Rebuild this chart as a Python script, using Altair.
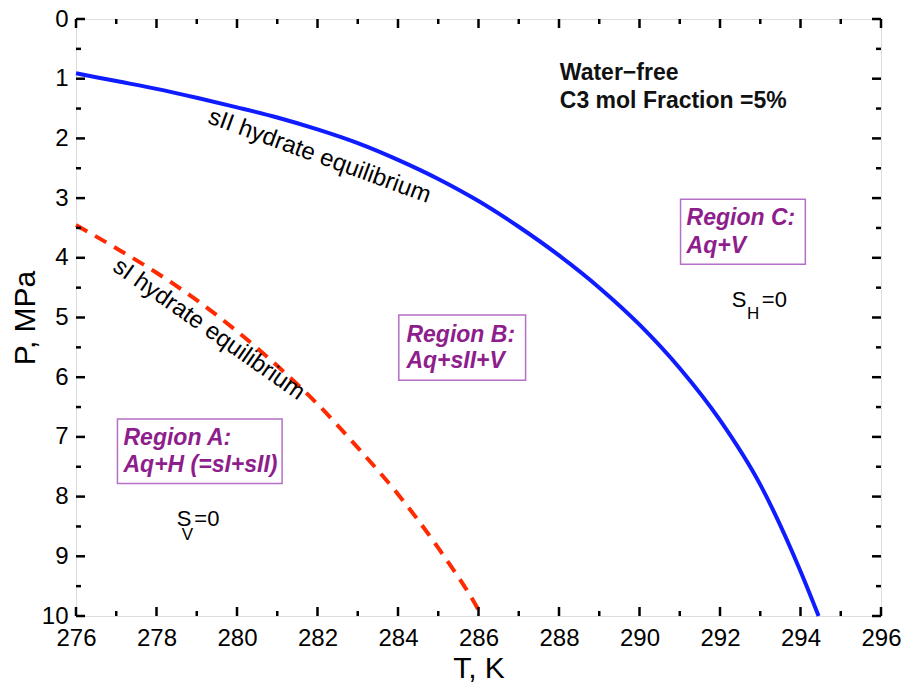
import altair as alt
import pandas as pd

# sII hydrate equilibrium curve (solid blue)
t_sii = [276.0, 277.0, 278.0, 279.0, 280.0, 281.0, 282.0, 283.0, 284.0, 285.0,
         286.0, 287.0, 288.0, 289.0, 290.0, 291.0, 292.0, 293.0, 294.0, 294.45]
p_sii = [0.91, 1.04, 1.17, 1.32, 1.48, 1.65, 1.85, 2.08, 2.36, 2.68,
         3.05, 3.48, 3.96, 4.50, 5.12, 5.85, 6.72, 7.80, 9.25, 10.0]

# sI hydrate equilibrium curve (dashed red)
t_si = [276.0, 277.0, 278.0, 279.0, 280.0, 281.0, 282.0, 283.0, 284.0, 285.0, 286.0, 286.08]
p_si = [3.45, 3.84, 4.25, 4.71, 5.23, 5.81, 6.45, 7.18, 7.96, 8.86, 9.90, 10.0]

# axis ticks
x_major = list(range(276, 297, 2))
x_minor = list(range(277, 296, 2))
y_major = list(range(0, 11))
y_minor = [v + 0.5 for v in range(0, 10)]

# region boxes: label lines and frame extents (T, P)
region_lines = ["Region A:", "Aq+H (=sI+sII)", "Region B:", "Aq+sII+V", "Region C:", "Aq+V"]
region_line_t = [277.18, 277.18, 284.21, 284.21, 291.17, 291.17]
region_line_p = [7.14, 7.58, 5.41, 5.85, 3.45, 3.92]
box_t0 = [277.03, 284.02, 291.02]
box_t1 = [281.12, 287.17, 294.12]
box_p0 = [6.70, 4.96, 3.02]
box_p1 = [7.78, 6.05, 4.11]

W, H = 805, 597
FONT = "Liberation Sans"
AXFONT = "Liberation Sans Narrow, Liberation Sans, Arial"
PURPLE = "#8e1e8c"

xs = alt.Scale(domain=[276, 296], nice=False, zero=False)
ys = alt.Scale(domain=[0, 10], nice=False, zero=False, reverse=True)

x_axis = alt.Axis(values=x_major, format="d", ticks=False, domain=False, grid=False,
                  labelFont=AXFONT, labelFontSize=24, labelColor="black", labelPadding=10,
                  labelFlush=False, labelOverlap=False,
                  title="T, K", titleFont=AXFONT, titleFontSize=30, titleFontWeight="normal",
                  titleColor="black", titleY=61, titleBaseline="alphabetic")
y_axis = alt.Axis(values=y_major, format="d", ticks=False, domain=False, grid=False,
                  labelFont=AXFONT, labelFontSize=24, labelColor="black", labelPadding=8,
                  labelFlush=False, labelOverlap=False,
                  title="P, MPa", titleFont=AXFONT, titleFontSize=30, titleFontWeight="normal",
                  titleColor="black", titleX=-42, titleY=H / 2, titleAngle=-90,
                  titleBaseline="alphabetic", titleAlign="center")


def X(field):
    return alt.X(field, scale=xs, axis=x_axis)


def Y(field):
    return alt.Y(field, scale=ys, axis=y_axis)


sii = pd.DataFrame({"T": t_sii, "P": p_sii})
si = pd.DataFrame({"T": t_si, "P": p_si})

line_sii = alt.Chart(sii).mark_line(color="#0f1cff", strokeWidth=4, interpolate="monotone").encode(
    x=X("T:Q"), y=Y("P:Q"))
line_si = alt.Chart(si).mark_line(color="#ff2a00", strokeWidth=4, strokeDash=[13, 9],
                                  interpolate="monotone").encode(x=X("T:Q"), y=Y("P:Q"))


def x_ticks(values, length):
    base = alt.Chart(pd.DataFrame({"T": values})).mark_rule(color="black", strokeWidth=2.5)
    bottom = base.encode(x=X("T:Q"), y=alt.value(H), y2=alt.value(H - length))
    top = base.encode(x=X("T:Q"), y=alt.value(0), y2=alt.value(length))
    return [bottom, top]


def y_ticks(values, length):
    base = alt.Chart(pd.DataFrame({"P": values})).mark_rule(color="black", strokeWidth=2.5)
    left = base.encode(y=Y("P:Q"), x=alt.value(0), x2=alt.value(length))
    right = base.encode(y=Y("P:Q"), x=alt.value(W), x2=alt.value(W - length))
    return [left, right]


ticks = x_ticks(x_major, 9) + x_ticks(x_minor, 5) + y_ticks(y_major, 9) + y_ticks(y_minor, 5)

boxes = alt.Chart(pd.DataFrame({"T": box_t0, "t1": box_t1, "P": box_p0, "p1": box_p1})).mark_rect(
    fill="white", fillOpacity=0, stroke="#b56fc6", strokeWidth=1.5
).encode(x=X("T:Q"), x2="t1:Q", y=Y("P:Q"), y2="p1:Q")

region_text = alt.Chart(pd.DataFrame({"T": region_line_t, "P": region_line_p, "label": region_lines})).mark_text(
    font=FONT, fontSize=23, fontWeight="bold", fontStyle="italic", color=PURPLE,
    align="left", baseline="alphabetic"
).encode(x=X("T:Q"), y=Y("P:Q"), text="label:N")

note = alt.Chart(pd.DataFrame({"T": [288.02, 288.02], "P": [1.02, 1.49],
                               "label": ["Water\u2212free", "C3 mol Fraction =5%"]})).mark_text(
    font=FONT, fontSize=23, fontWeight="bold", color="#111111", align="left", baseline="alphabetic"
).encode(x=X("T:Q"), y=Y("P:Q"), text="label:N")

curve_labels = []
for lbl, t, p, ang in [("sII hydrate equilibrium", 282.05, 2.30, 20),
                       ("sI hydrate equilibrium", 279.3, 5.20, 35)]:
    curve_labels.append(
        alt.Chart(pd.DataFrame({"T": [t], "P": [p], "label": [lbl]})).mark_text(
            font=FONT, fontSize=24, color="black", angle=ang, align="center", baseline="middle"
        ).encode(x=X("T:Q"), y=Y("P:Q"), text="label:N")
    )

# saturation notes with subscripts: S_V = 0 and S_H = 0
sat_main = alt.Chart(pd.DataFrame({"T": [278.50, 278.94, 292.29, 293.04], "P": [8.50, 8.50, 4.82, 4.82],
                                   "label": ["S", "=0", "S", "=0"]})).mark_text(
    font=FONT, fontSize=22, color="black", align="left", baseline="alphabetic"
).encode(x=X("T:Q"), y=Y("P:Q"), text="label:N")
sat_sub = alt.Chart(pd.DataFrame({"T": [278.63, 292.67], "P": [8.73, 5.03], "label": ["V", "H"]})).mark_text(
    font=FONT, fontSize=17, color="black", align="left", baseline="alphabetic"
).encode(x=X("T:Q"), y=Y("P:Q"), text="label:N")

chart = alt.layer(
    boxes, line_si, line_sii, *ticks, region_text, note, *curve_labels, sat_main, sat_sub
).properties(
    width=W, height=H,
    autosize=alt.AutoSizeParams(type="none"),
    padding={"left": 76, "top": 19, "right": 25, "bottom": 72},
).configure_view(
    stroke="black", strokeWidth=3
).configure(background="white")

chart.save("out.html", embed_options={"renderer": "svg", "actions": False})
